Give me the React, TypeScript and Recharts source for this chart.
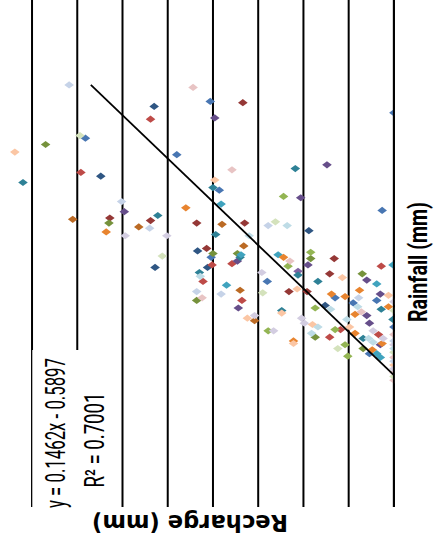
import React from 'react';
import { ScatterChart, Scatter, XAxis, YAxis } from 'recharts';

// Each entry: [rainfall (mm), recharge (mm)]
const blue: [number, number][] = [[220, 20.3], [191, 34.1], [178, 24.0], [150, 19.3], [97, 20.2], [211, 0], [134, 1.3], [78, 14.0], [65, 6.5], [63, 1.9], [61, 4.5], [42, 0], [21, 2.7]];
const darkBlue: [number, number][] = [[216, 26.5], [161, 32.4], [102, 21.7], [89, 26.4], [118, 9.4], [89, 20.6], [59, 7.6]];
const red: [number, number][] = [[206, 26.9], [164, 34.6], [90, 1.4], [92, 17.9], [91, 20.1], [78, 21.1], [63, 16.8], [34, 7.1], [40, 5.9], [36, 1.7]];
const darkRed: [number, number][] = [[128, 31.4], [126, 26.9], [124, 21.8], [104, 20.7], [219, 16.7], [124, 16.5], [96, 6.6], [84, 7.1], [70, 11.6], [70, 9.6]];
const green: [number, number][] = [[145, 12.2], [101, 9.2], [90, 11.7], [57, 8.7], [39, 13.9], [40, 6.5], [28, 5.4], [19, 5.1]];
const olive: [number, number][] = [[186, 38.5], [124, 31.5], [100, 20.0], [96, 9.2], [100, 17.3], [63, 21.8], [34, 8.7], [84, 3.5], [25, 3.4]];
const purple: [number, number][] = [[86, 10.6]];
const darkPurple: [number, number][] = [[207, 19.8], [133, 29.8], [170, 7.4], [144, 10.3], [94, 17.3], [91, 9.5], [57, 17.2], [79, 3.0], [68, 1.5], [51, 3.0], [45, 2.7], [28, 1.5]];
const aqua: [number, number][] = [[139, 19.1], [99, 12.8], [91, 0.1], [99, 16.9], [75, 18.5], [76, 1.9], [21, 1.9], [18, 1.5]];
const teal: [number, number][] = [[156, 41.0], [152, 20.0], [130, 26.1], [115, 19.7], [167, 10.9], [97, 17.0], [85, 21.5], [83, 10.6], [78, 8.4], [55, 12.4], [56, 1.4], [48, 0.1], [33, 3.4]];
const orange: [number, number][] = [[136, 23.0], [117, 31.8], [97, 12.2], [68, 6.9], [31, 11.1], [71, 3.8], [66, 5.4], [58, 0.6], [52, 4.3], [37, 4.3], [29, 1.3], [24, 2.4]];
const brown: [number, number][] = [[127, 35.5], [123, 19.0], [121, 28.2], [106, 16.6], [71, 17.0], [47, 15.4]];
const peach: [number, number][] = [[180, 41.9], [158, 19.8], [49, 16.2], [72, 10.7], [53, 12.4], [44, 9.0], [29, 11.1], [81, 5.7], [67, 0.6], [42, 4.9], [12, 0]];
const lightPink: [number, number][] = [[231, 22.2], [166, 17.9], [94, 11.5], [65, 21.2], [54, 3.6], [36, 0], [18, 0], [6, 0], [0, 0]];
const lightGreen: [number, number][] = [[193, 34.7], [98, 25.6], [125, 13.1], [69, 14.5], [55, 0], [25, 6.2], [22, 0], [3, 0]];
const lilac: [number, number][] = [[114, 29.7], [114, 25.1], [51, 15.4], [85, 14.6], [49, 10.2], [45, 9.9], [39, 13.3], [62, 0], [39, 2.3], [33, 1.2], [28, 0], [9, 0]];
const lightBlue: [number, number][] = [[233, 35.9], [141, 30.1], [120, 27.0], [122, 13.9], [70, 21.8], [68, 19.1], [65, 3.9], [31, 0], [15, 0]];
const lightAqua: [number, number][] = [[122, 11.8], [114, 16.0], [82, 21.4], [56, 7.0], [42, 8.4], [37, 9.1], [58, 4.0], [48, 5.2], [33, 2.8], [30, 2.3], [25, 0]];

// Linear trendline end points (min and max rainfall)
const trend: [number, number][] = [[4, 0], [233, 33.5]];

const rechargeTicks = [0, 5, 10, 15, 20, 25, 30, 35, 40];
const rainDomain: [number, number] = [-100, 300];

const seriesList: { data: [number, number][]; color: string }[] = [
  { data: darkBlue, color: '#2F5683' },
  { data: blue, color: '#4876B2' },
  { data: darkRed, color: '#953836' },
  { data: red, color: '#BE4B48' },
  { data: olive, color: '#76923C' },
  { data: green, color: '#93B553' },
  { data: darkPurple, color: '#664E8A' },
  { data: purple, color: '#8064A2' },
  { data: teal, color: '#2E8196' },
  { data: aqua, color: '#40A3BE' },
  { data: brown, color: '#BB6A24' },
  { data: orange, color: '#E8842F' },
  { data: peach, color: '#FBC6A4' },
  { data: lightPink, color: '#E8C4C4' },
  { data: lightGreen, color: '#D4E2BC' },
  { data: lilac, color: '#D3CDE1' },
  { data: lightBlue, color: '#C6D3E8' },
  { data: lightAqua, color: '#BEDCE6' },
];

const toPts = (arr: [number, number][]) => arr.map(([rain, recharge]) => ({ rain, recharge }));
const gridPts = (t: number) => [
  { recharge: t, rain: rainDomain[0] },
  { recharge: t, rain: rainDomain[1] },
];

const Diamond = (props: any) => {
  const { cx, cy, fill } = props;
  if (cx == null || cy == null) return <g />;
  return (
    <polygon
      points={`${cx},${cy - 3.6} ${cx + 4.8},${cy} ${cx},${cy + 3.6} ${cx - 4.8},${cy}`}
      fill={fill}
    />
  );
};

const Empty = () => <g />;

const narrow = "'Liberation Sans Narrow', Roboto, 'Liberation Sans', sans-serif";

export default function App() {
  return (
    <div style={{ position: 'absolute', left: 0, top: 0, width: 435, height: 540, overflow: 'hidden', background: '#fff' }}>
      <ScatterChart width={435} height={540} margin={{ top: 0, left: 0, right: 40, bottom: 33 }}>
        <XAxis
          type="number"
          dataKey="recharge"
          domain={[-0.12, 43.54]}
          reversed
          allowDataOverflow
          ticks={rechargeTicks}
          hide
        />
        <YAxis type="number" dataKey="rain" domain={rainDomain} allowDataOverflow hide />
        {rechargeTicks.map((t) => (
          <Scatter
            key={`g${t}`}
            data={gridPts(t)}
            line={{ stroke: '#000', strokeWidth: 2 }}
            shape={Empty}
            isAnimationActive={false}
          />
        ))}
        {seriesList.map((s, i) => (
          <Scatter
            key={`s${i}`}
            data={toPts(s.data)}
            fill={s.color}
            shape={Diamond}
            isAnimationActive={false}
          />
        ))}
        <Scatter
          key="zeroline"
          data={gridPts(rechargeTicks[0])}
          line={{ stroke: '#000', strokeWidth: 2 }}
          shape={Empty}
          isAnimationActive={false}
        />
        <Scatter
          key="trend"
          data={toPts(trend)}
          line={{ stroke: '#000', strokeWidth: 1.8 }}
          shape={Empty}
          isAnimationActive={false}
        />
      </ScatterChart>
      <svg
        width={435}
        height={540}
        style={{ position: 'absolute', left: 0, top: 0, pointerEvents: 'none' }}
      >
        <rect x={32.3} y={350} width={84} height={160} fill="#fff" />
        <g transform="translate(427, 262) rotate(-90)">
          <text x={0} y={0} textAnchor="middle" fontFamily={narrow} fontWeight="bold" fontSize={25} fill="#000" textLength={120} lengthAdjust="spacingAndGlyphs">
            Rainfall (mm)
          </text>
        </g>
        <g transform="translate(190, 515) rotate(180)">
          <text x={0} y={0} textAnchor="middle" fontFamily="'DejaVu Sans', Verdana, sans-serif" fontWeight="bold" fontSize={23} fill="#000" textLength={196} lengthAdjust="spacingAndGlyphs">
            Recharge (mm)
          </text>
        </g>
        <g transform="translate(65, 433) rotate(-90)">
          <text x={0} y={0} textAnchor="middle" fontFamily={narrow} fontSize={27} fill="#000" textLength={150} lengthAdjust="spacingAndGlyphs">
            y = 0.1462x - 0.5897
          </text>
        </g>
        <g transform="translate(104, 440) rotate(-90)">
          <text x={0} y={0} textAnchor="middle" fontFamily={narrow} fontSize={27} fill="#000" textLength={95} lengthAdjust="spacingAndGlyphs">
            R² = 0.7001
          </text>
        </g>
      </svg>
    </div>
  );
}
